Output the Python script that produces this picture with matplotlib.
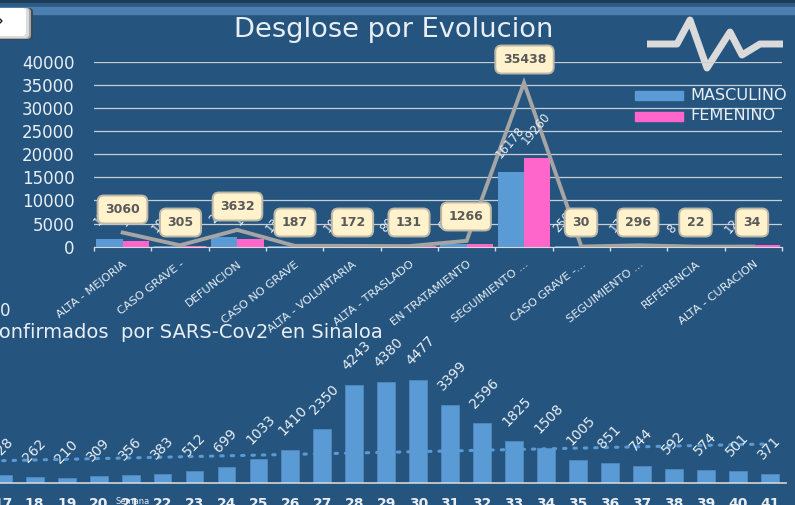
import numpy as np
import matplotlib
matplotlib.use('Agg')
import matplotlib.pyplot as plt
from matplotlib.patches import FancyBboxPatch, Rectangle

# datos por evolucion
evolucion = ['ALTA - MEJORIA', 'CASO GRAVE -', 'DEFUNCION', 'CASO NO GRAVE', 'ALTA - VOLUNTARIA',
             'ALTA - TRASLADO', 'EN TRATAMIENTO', 'SEGUIMIENTO ...', 'CASO GRAVE -...',
             'SEGUIMIENTO ...', 'REFERENCIA', 'ALTA - CURACION']
masculino = [1720, 180, 2020, 130, 100, 80, 600, 16178, 250, 170, 8, 12]
femenino = [1340, 125, 1612, 57, 72, 51, 666, 19260, 50, 126, 200, 300]
total = [3060, 305, 3632, 187, 172, 131, 1266, 35438, 30, 296, 22, 34]

# datos por semana
semanas = [17, 18, 19, 20, 21, 22, 23, 24, 25, 26, 27, 28, 29, 30, 31, 32, 33, 34, 35, 36, 37, 38, 39, 40, 41]
casos = [328, 262, 210, 309, 356, 383, 512, 699, 1033, 1410, 2350, 4243, 4380, 4477, 3399, 2596,
         1825, 1508, 1005, 851, 744, 592, 574, 501, 371]
tendencia_sem = [17, 41]
tendencia = [960, 1690]

W, H = 795, 505
FONDO = '#25557F'
AZUL = '#5B9BD5'
ROSA = '#FF66CC'
GRIS = '#A5A5A5'
TEXTO = '#E8EEF4'

fig = plt.figure(figsize=(W / 100, H / 100), dpi=100, facecolor=FONDO)


def caja(x0, y0, x1, y1):
    # ejes a partir de pixeles (y hacia abajo)
    return [x0 / W, 1 - y1 / H, (x1 - x0) / W, (y1 - y0) / H]


# fondo, banda superior, boton y logo en pixeles
bg = fig.add_axes([0, 0, 1, 1], zorder=0)
bg.set_xlim(0, W)
bg.set_ylim(H, 0)
bg.axis('off')
bg.add_patch(Rectangle((0, 0), W, 3, color='#1B3A56'))
bg.add_patch(Rectangle((0, 3), W, 4, color='#2C5A83'))
bg.add_patch(Rectangle((0, 7), W, 7, color='#4C7FB0'))
bg.add_patch(FancyBboxPatch((-10, 8), 43, 32, boxstyle='round,pad=0,rounding_size=4', fc='#3A4A58', ec='none'))
bg.add_patch(FancyBboxPatch((-10, 8), 41, 31, boxstyle='round,pad=0,rounding_size=4', fc='#A8A8A8', ec='none'))
bg.add_patch(FancyBboxPatch((-10, 8), 39, 30, boxstyle='round,pad=0,rounding_size=4', fc='#DCDCDC', ec='none'))
bg.add_patch(FancyBboxPatch((-10, 8), 36, 28, boxstyle='round,pad=0,rounding_size=4', fc='white', ec='none'))
bg.plot([0, 2, 0], [19, 21, 23], color='#222222', lw=1)
bg.plot([647, 677, 690, 707, 730, 742, 760, 783], [44, 44, 20, 68, 32, 55, 44, 44],
        color='#DADADA', lw=5, solid_joinstyle='round', solid_capstyle='butt')

# grafica superior
ax = fig.add_axes(caja(94, 61.7, 782, 246.7), zorder=1)
ax.patch.set_alpha(0)
x = np.arange(len(evolucion))
ancho = 0.46
ax.bar(x - ancho / 2, masculino, ancho, color=AZUL, label='MASCULINO', zorder=2)
ax.bar(x + ancho / 2, femenino, ancho, color=ROSA, label='FEMENINO', zorder=2)
ax.plot(x, total, color=GRIS, lw=2.8, zorder=3, solid_joinstyle='miter')
ax.set_xlim(-0.5, len(evolucion) - 0.5)
ax.set_ylim(0, 40000)
ax.set_yticks(range(0, 40001, 5000))
ax.yaxis.grid(True, color='#C8CDD2', lw=0.9)
ax.set_axisbelow(True)
ax.set_xticks(np.arange(len(evolucion) + 1) - 0.5)
ax.set_xticklabels([])
ax.tick_params(axis='x', color='#D9D9D9', length=3, width=1, direction='out')
ax.tick_params(axis='y', length=0, labelsize=12, labelcolor=TEXTO, pad=14)
for s in ['top', 'left', 'right']:
    ax.spines[s].set_visible(False)
ax.spines['bottom'].set_color('#D9D9D9')
for i, nombre in enumerate(evolucion):
    ax.annotate(nombre, (i, 0), xytext=(0, -9), textcoords='offset points', rotation=38, ha='right', va='top',
                rotation_mode='anchor', fontsize=8.2, color=TEXTO, annotation_clip=False)

# etiquetas de barras (casi todas quedan debajo de las cajas)
for i in range(len(evolucion)):
    for xb, v in ((i - ancho / 2, masculino[i]), (i + ancho / 2, femenino[i])):
        ax.annotate(str(v), (xb, v), xytext=(-9.5, 11), textcoords='offset points', rotation=50, ha='left', va='center',
                    rotation_mode='anchor', fontsize=8.5, color=TEXTO, zorder=4)

# cajas con el total
cajas_x = [122.5, 180.5, 237.5, 295, 352.5, 409, 466, 524.5, 581, 638, 695.5, 752]
cajas_y = [209.5, 222.5, 206.5, 222.5, 222.5, 222.5, 216.5, 59.5, 222.5, 222.5, 222.5, 222.5]
for t, cx, cy in zip(total, cajas_x, cajas_y):
    fig.text(cx / W, 1 - cy / H, str(t), ha='center', va='center', fontsize=9, fontweight='bold',
             color='#595959', zorder=6,
             bbox=dict(boxstyle='round,pad=0.6,rounding_size=0.5', fc='#FFF2CC', ec='#BFB8A6', lw=1.4))

# titulo, leyenda, textos sueltos
fig.text(394 / W, 1 - 30 / H, 'Desglose por Evolucion', ha='center', va='center', fontsize=19.6, color=TEXTO, zorder=6)
ley = fig.add_axes([0, 0, 1, 1], zorder=5)
ley.set_xlim(0, W)
ley.set_ylim(H, 0)
ley.axis('off')
hs, ls = ax.get_legend_handles_labels()
for h, l, yl in zip(hs, ls, [95, 116]):
    ley.add_patch(Rectangle((635, yl - 4.5), 48, 9, color=h.patches[0].get_facecolor()))
    ley.text(690, yl, l, va='center', ha='left', fontsize=11.6, color=TEXTO)
fig.text(0, 1 - 311 / H, '0', va='center', ha='left', fontsize=12, color=TEXTO)
fig.text(383 / W, 1 - 333 / H, 'confirmados  por SARS-Cov2  en Sinaloa', ha='right', va='center',
         fontsize=14, color=TEXTO)

# grafica inferior
paso = 32.0
ax2 = fig.add_axes(caja(2.7 - paso / 2, 340, 786, 482.7), zorder=1)
ax2.patch.set_alpha(0)
ax2.bar(semanas, casos, 0.56, color=AZUL, edgecolor='#4F88BC', lw=0.6, zorder=2)
ax2.plot(tendencia_sem, tendencia, color=AZUL, lw=2.2, ls=(0, (0.8, 2.6)), dash_capstyle='round', zorder=3)
ax2.set_xlim(semanas[0] - 0.5, semanas[-1] + 0.5)
ax2.set_ylim(0, 142.7 * 43.6)
ax2.set_xticks(semanas)
ax2.tick_params(axis='x', length=0, labelsize=10, labelcolor=TEXTO, pad=10)
for lab in ax2.get_xticklabels():
    lab.set_fontweight('bold')
ax2.set_yticks([])
for s in ['top', 'left', 'right']:
    ax2.spines[s].set_visible(False)
ax2.spines['bottom'].set_color('#D0D5DA')
ax2.spines['bottom'].set_linewidth(1.2)
for s, v in zip(semanas, casos):
    ax2.annotate(str(v), (s, v), xytext=(-3.5, 8.5), textcoords='offset points', rotation=46, ha='left', va='bottom',
                 rotation_mode='anchor', fontsize=10, color=TEXTO, zorder=4, annotation_clip=False)
fig.text(133 / W, 1 - 502 / H, 'Semana', ha='center', va='center', fontsize=6, color=TEXTO, zorder=0)

fig.savefig('out.png', dpi=100, facecolor=FONDO)
